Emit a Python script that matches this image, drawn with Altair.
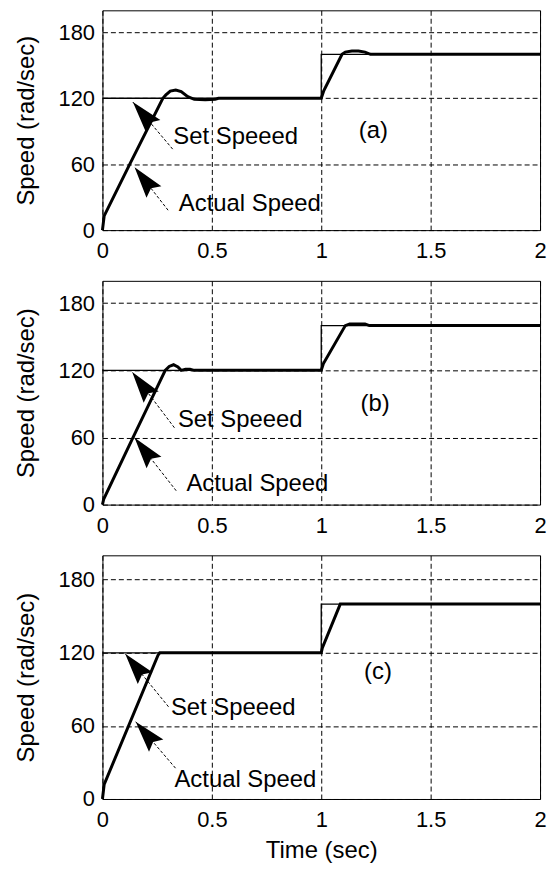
import math
import altair as alt
import pandas as pd

FONT = "Liberation Sans"
W = 440
HEIGHTS = [221, 225, 245]

x_ticks = [0, 0.5, 1, 1.5, 2]
y_ticks = [0, 60, 120, 180]

# Set speed (same in all panels)
set_t = [0, 1, 1, 2]
set_v = [120, 120, 160, 160]

# Actual speed, panel (a)
a_t = [0, 0.008, 0.125, 0.276, 0.29, 0.31, 0.335, 0.36, 0.39, 0.42, 0.47, 0.515, 0.53,
       1.0, 1.012, 1.095, 1.11, 1.14, 1.17, 1.2, 1.225, 2.0]
a_v = [0, 13, 60, 120, 123, 126.5, 127.5, 126, 121.5, 119, 118.7, 119, 120,
       120, 127, 160, 162, 163, 163, 162, 160, 160]

# Actual speed, panel (b)
b_t = [0, 0.006, 0.14, 0.287, 0.305, 0.325, 0.345, 0.36, 0.38, 0.40, 0.42,
       1.0, 1.01, 1.11, 1.13, 1.2, 1.22, 2.0]
b_v = [0, 5, 60, 120, 123.5, 125, 123, 120, 121, 121, 120,
       120, 126, 160, 161.5, 161.5, 160, 160]

# Actual speed, panel (c)
c_t = [0, 0.008, 0.254, 0.262, 1.0, 1.005, 1.087, 2.0]
c_v = [0, 12, 118, 120, 120, 124, 160, 160]

panel_labels = ["(a)", "(b)", "(c)"]
label_x = [1.238, 1.246, 1.259]
label_y = [90.3, 89.5, 104.2]

set_text = "Set Speeed"
act_text = "Actual Speed"
set_text_x = [0.324, 0.345, 0.313]
set_text_y = [84.3, 75.3, 74.9]
act_text_x = [0.349, 0.384, 0.329]
act_text_y = [24.0, 18.4, 15.8]

set_tail_x = [0.321, 0.329, 0.302]
set_tail_y = [73.7, 68.7, 75.7]
set_tip_x = [0.139, 0.136, 0.104]
set_tip_y = [116.5, 118.5, 119.2]
act_tail_x = [0.300, 0.337, 0.334]
act_tail_y = [18.1, 12.4, 25.3]
act_tip_x = [0.147, 0.147, 0.152]
act_tip_y = [57.2, 59.8, 63.4]

ARROW_PATH = "M0,0 L0.6,2 L0,1.7 L-0.6,2 Z"


def heading(tx, ty, hx, hy, h):
    dx = (hx - tx) * W / 2.0
    dy = -(hy - ty) * h / 200.0
    return math.degrees(math.atan2(dx, -dy)) % 360


def panel(i, t, v, xtitle):
    h = HEIGHTS[i]
    xaxis_kw = dict(values=x_ticks, format="~g", labelPadding=11, labelFlush=False)
    if xtitle:
        xaxis = alt.Axis(title=xtitle, titlePadding=8, **xaxis_kw)
    else:
        xaxis = alt.Axis(title=None, **xaxis_kw)
    xs = alt.Scale(domain=[0, 2], nice=False, zero=False)
    ys = alt.Scale(domain=[0, 200], nice=False, zero=False)
    yaxis = alt.Axis(values=y_ticks, title="Speed (rad/sec)", labelPadding=8,
                     titlePadding=20, labelFlush=False)
    X = alt.X("t:Q", scale=xs, axis=xaxis)
    Y = alt.Y("v:Q", scale=ys, axis=yaxis)

    set_df = pd.DataFrame({"t": set_t, "v": set_v})
    act_df = pd.DataFrame({"t": t, "v": v})

    set_line = alt.Chart(set_df).mark_line(color="black", strokeWidth=1.3).encode(x=X, y=Y)
    act_line = alt.Chart(act_df).mark_line(color="black", strokeWidth=3).encode(x=X, y=Y)

    arr_df = pd.DataFrame({
        "t": [set_tail_x[i], act_tail_x[i]],
        "v": [set_tail_y[i], act_tail_y[i]],
        "t2": [set_tip_x[i], act_tip_x[i]],
        "v2": [set_tip_y[i], act_tip_y[i]],
    })
    rules = alt.Chart(arr_df).mark_rule(color="black", strokeWidth=1, strokeDash=[3, 2]).encode(
        x=X, y=Y, x2=alt.X2("t2"), y2=alt.Y2("v2"))

    head_df = pd.DataFrame({
        "t": [set_tip_x[i], act_tip_x[i]],
        "v": [set_tip_y[i], act_tip_y[i]],
        "ang": [heading(set_tail_x[i], set_tail_y[i], set_tip_x[i], set_tip_y[i], h),
                heading(act_tail_x[i], act_tail_y[i], act_tip_x[i], act_tip_y[i], h)],
    })
    heads = alt.Chart(head_df).mark_point(
        shape=ARROW_PATH, size=1000, filled=True, color="black", opacity=1, strokeWidth=0
    ).encode(x=X, y=Y, angle=alt.Angle("ang:Q", scale=None))

    txt_df = pd.DataFrame({
        "t": [set_text_x[i], act_text_x[i]],
        "v": [set_text_y[i], act_text_y[i]],
        "txt": [set_text, act_text],
    })
    texts = alt.Chart(txt_df).mark_text(
        align="left", baseline="middle", font=FONT, fontSize=24, color="black"
    ).encode(x=X, y=Y, text="txt:N")

    lab_df = pd.DataFrame({"t": [label_x[i]], "v": [label_y[i]], "txt": [panel_labels[i]]})
    lab = alt.Chart(lab_df).mark_text(
        align="center", baseline="middle", font=FONT, fontSize=24, color="black"
    ).encode(x=X, y=Y, text="txt:N")

    return alt.layer(set_line, act_line, rules, heads, texts, lab).properties(width=W, height=h)


pa = panel(0, a_t, a_v, None)
pb = panel(1, b_t, b_v, None)
pc = panel(2, c_t, c_v, "Time (sec)")

chart = alt.vconcat(pa, pb, pc, spacing=51, bounds="flush").properties(
    padding={"left": 13, "top": 7, "right": 0, "bottom": 0},
    background="white",
).configure_axis(
    labelFont=FONT, titleFont=FONT, labelFontSize=22, titleFontSize=24,
    labelColor="black", titleColor="black", titleFontWeight="normal",
    domain=False, ticks=False,
    grid=True, gridColor="black", gridDash=[5, 3], gridWidth=1, gridOpacity=1,
).configure_view(stroke="black", strokeWidth=1)

chart.save("out.html", embed_options={"renderer": "svg", "actions": False})
